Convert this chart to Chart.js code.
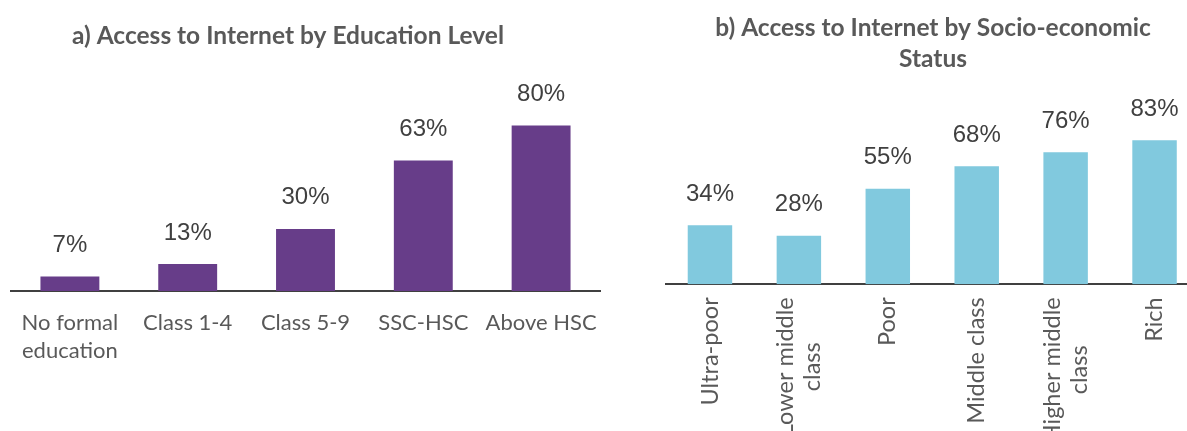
<!DOCTYPE html>
<html>
<head>
<meta charset="utf-8">
<script src="https://cdn.jsdelivr.net/npm/chart.js@4.4.1/dist/chart.umd.min.js"></script>
<style>
  html, body { margin: 0; padding: 0; background: #ffffff; overflow: hidden; width: 1187px; height: 431px; }
  #wa { position: absolute; left: 0; top: 0; }
  #wb { position: absolute; left: 640px; top: 0; }
</style>
</head>
<body>
<div id="wa"><canvas id="ca" width="620" height="431"></canvas></div>
<div id="wb"><canvas id="cb" width="560" height="431"></canvas></div>
<script>
// ---- data ----
const eduCategories = [['No formal', 'education'], 'Class 1-4', 'Class 5-9', 'SSC-HSC', 'Above HSC'];
const eduValues = [7, 13, 30, 63, 80];
const sesCategories = ['Ultra-poor', ['Lower middle', 'class'], 'Poor', 'Middle class', ['Higher middle', 'class'], 'Rich'];
const sesValues = [34, 28, 55, 68, 76, 83];
const titleA = ['a) Access to Internet by Education Level'];
const titleB = ['b) Access to Internet by Socio-economic', 'Status'];

// ---- plugins ----
const valueLabels = {
  id: 'valueLabels',
  afterDatasetsDraw(chart, args, opts) {
    const ctx = chart.ctx;
    const ds = chart.data.datasets[0];
    const meta = chart.getDatasetMeta(0);
    ctx.save();
    ctx.font = opts.font;
    ctx.fillStyle = opts.color;
    ctx.textAlign = 'center';
    ctx.textBaseline = 'alphabetic';
    meta.data.forEach((bar, i) => {
      ctx.fillText(ds.data[i] + '%', bar.x, bar.y - opts.gap);
    });
    ctx.restore();
  }
};

const titleText = {
  id: 'titleText',
  afterDraw(chart, args, opts) {
    const ctx = chart.ctx;
    ctx.save();
    ctx.font = opts.font;
    ctx.fillStyle = opts.color;
    ctx.textAlign = 'center';
    ctx.textBaseline = 'alphabetic';
    opts.lines.forEach((line, k) => {
      ctx.fillText(line, opts.x, opts.y + k * opts.lineHeight);
    });
    ctx.restore();
  }
};

const rotatedTicks = {
  id: 'rotatedTicks',
  afterDraw(chart, args, opts) {
    if (!opts.enabled) return;
    const ctx = chart.ctx;
    const scale = chart.scales.x;
    ctx.save();
    ctx.font = opts.font;
    ctx.fillStyle = opts.color;
    ctx.textAlign = 'center';
    ctx.textBaseline = 'middle';
    chart.data.labels.forEach((lab, i) => {
      const lines = Array.isArray(lab) ? lab : [lab];
      const x = scale.getPixelForTick(i);
      const L = Math.max(...lines.map(l => ctx.measureText(l).width));
      ctx.save();
      ctx.translate(x, scale.top + opts.gap);
      ctx.rotate(-Math.PI / 2);
      lines.forEach((line, k) => {
        ctx.fillText(line, -L / 2, (k - (lines.length - 1) / 2) * opts.lineHeight);
      });
      ctx.restore();
    });
    ctx.restore();
  }
};

Chart.register(valueLabels, titleText, rotatedTicks);

function makeChart(id, labels, values, cfg) {
  return new Chart(document.getElementById(id), {
    type: 'bar',
    data: {
      labels: labels,
      datasets: [{
        data: values,
        backgroundColor: cfg.color,
        borderWidth: 0,
        categoryPercentage: 1.0,
        barPercentage: 0.5
      }]
    },
    options: {
      responsive: false,
      animation: false,
      devicePixelRatio: 1,
      layout: { padding: cfg.padding },
      plugins: {
        legend: { display: false },
        tooltip: { enabled: false },
        title: { display: false },
        valueLabels: { font: '24px "Liberation Sans", Arial, sans-serif', color: '#404040', gap: 24.5 },
        titleText: cfg.title,
        rotatedTicks: cfg.rotated
      },
      scales: {
        x: {
          grid: { display: false, drawTicks: false },
          border: { display: true, color: '#404040', width: 2 },
          ticks: {
            display: cfg.showTicks,
            autoSkip: false,
            maxRotation: 0,
            minRotation: 0,
            padding: 18,
            color: '#595959',
            font: { family: 'Lato', size: 22, lineHeight: 1.28 }
          },
          afterFit: (s) => { s.height = cfg.axisHeight; }
        },
        y: { display: false, min: 0, max: 100 }
      }
    }
  });
}

makeChart('ca', eduCategories, eduValues, {
  color: '#673D89',
  padding: { left: 11, right: 20, top: 84, bottom: 0 },
  axisHeight: 431 - 291,
  showTicks: true,
  title: { lines: titleA, x: 288, y: 44, lineHeight: 31, font: 'bold 24.5px Lato', color: '#595959' },
  rotated: { enabled: false }
});

makeChart('cb', sesCategories, sesValues, {
  color: '#81C9DE',
  padding: { left: 25.5, right: 1, top: 110.7, bottom: 0 },
  axisHeight: 431 - 284.3,
  showTicks: false,
  title: { lines: titleB, x: 293, y: 35.7, lineHeight: 31, font: 'bold 24.5px Lato', color: '#595959' },
  rotated: { enabled: true, font: '23.5px Lato', color: '#595959', gap: 13, lineHeight: 27 }
});
</script>
</body>
</html>
